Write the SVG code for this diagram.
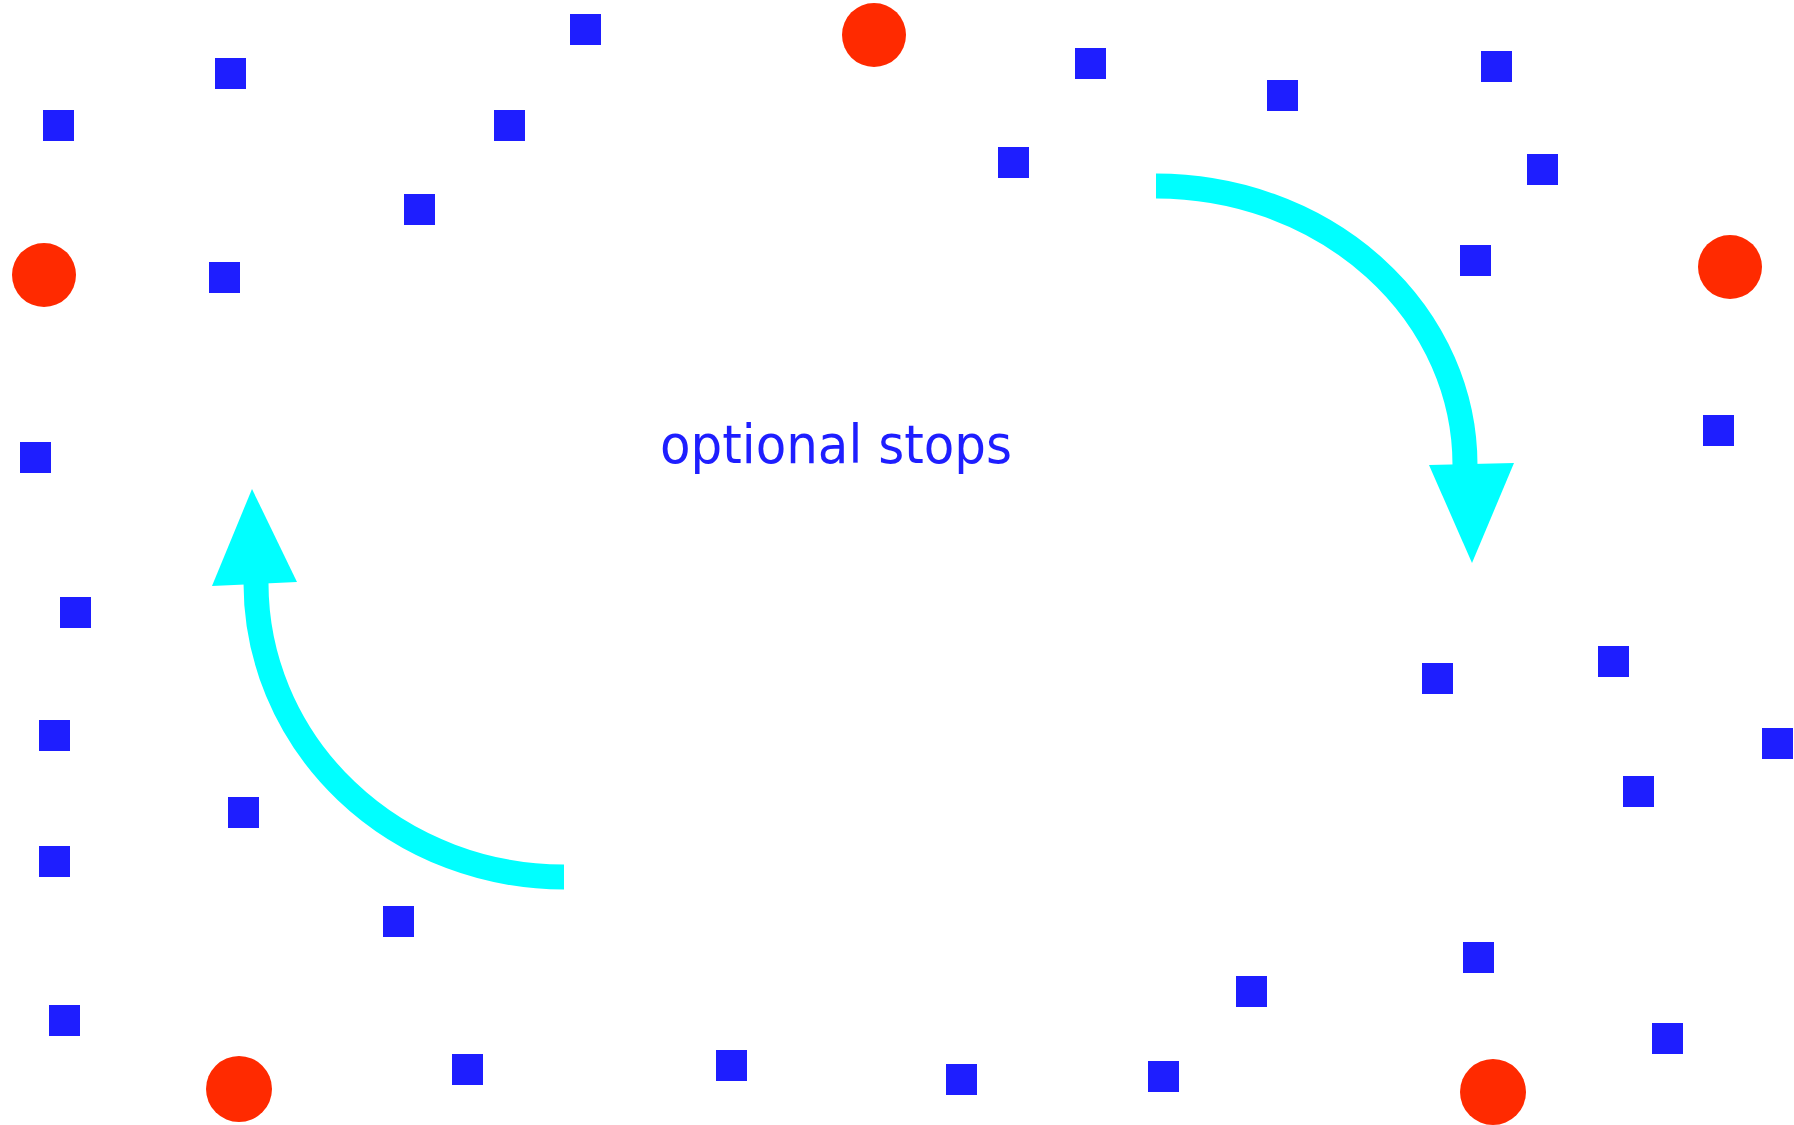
<svg xmlns="http://www.w3.org/2000/svg" width="1794" height="1125" viewBox="0 0 1794 1125">
<style>
.stop{fill:#1E1EFF}
.term{fill:#FF2A00}
.arc{fill:none;stroke:#00FFFF;stroke-width:25}
.head{fill:#00FFFF}
.lbl{font-family:"Comic Sans MS","DejaVu Sans",sans-serif;font-size:54px;fill:#1E1EFF}
</style>
<rect width="1794" height="1125" fill="#FFFFFF"/>
<g id="connectors">
<path class="arc" d="M1156,186 A309,279 0 0 1 1465,465"/>
<polygon class="head" points="1429,465 1514,463 1472,563"/>
<path class="arc" d="M564,877 A308,294 0 0 1 256,583"/>
<polygon class="head" points="212,586 297,582 252,489"/>
</g>
<g id="terminals">
<circle id="t1" class="term" cx="874" cy="35" r="32"/>
<circle id="t2" class="term" cx="44" cy="275" r="32"/>
<circle id="t3" class="term" cx="1730" cy="267" r="32"/>
<circle id="t4" class="term" cx="239" cy="1089" r="33"/>
<circle id="t5" class="term" cx="1493" cy="1092" r="33"/>
</g>
<g id="stops">
<rect id="s1" class="stop" x="570" y="14" width="31" height="31"/>
<rect id="s2" class="stop" x="215" y="58" width="31" height="31"/>
<rect id="s3" class="stop" x="43" y="110" width="31" height="31"/>
<rect id="s4" class="stop" x="494" y="110" width="31" height="31"/>
<rect id="s5" class="stop" x="404" y="194" width="31" height="31"/>
<rect id="s6" class="stop" x="209" y="262" width="31" height="31"/>
<rect id="s7" class="stop" x="1075" y="48" width="31" height="31"/>
<rect id="s8" class="stop" x="998" y="147" width="31" height="31"/>
<rect id="s9" class="stop" x="1267" y="80" width="31" height="31"/>
<rect id="s10" class="stop" x="1481" y="51" width="31" height="31"/>
<rect id="s11" class="stop" x="1527" y="154" width="31" height="31"/>
<rect id="s12" class="stop" x="1460" y="245" width="31" height="31"/>
<rect id="s13" class="stop" x="1703" y="415" width="31" height="31"/>
<rect id="s14" class="stop" x="20" y="442" width="31" height="31"/>
<rect id="s15" class="stop" x="60" y="597" width="31" height="31"/>
<rect id="s16" class="stop" x="39" y="720" width="31" height="31"/>
<rect id="s17" class="stop" x="228" y="797" width="31" height="31"/>
<rect id="s18" class="stop" x="39" y="846" width="31" height="31"/>
<rect id="s19" class="stop" x="383" y="906" width="31" height="31"/>
<rect id="s20" class="stop" x="49" y="1005" width="31" height="31"/>
<rect id="s21" class="stop" x="452" y="1054" width="31" height="31"/>
<rect id="s22" class="stop" x="716" y="1050" width="31" height="31"/>
<rect id="s23" class="stop" x="946" y="1064" width="31" height="31"/>
<rect id="s24" class="stop" x="1148" y="1061" width="31" height="31"/>
<rect id="s25" class="stop" x="1236" y="976" width="31" height="31"/>
<rect id="s26" class="stop" x="1463" y="942" width="31" height="31"/>
<rect id="s27" class="stop" x="1652" y="1023" width="31" height="31"/>
<rect id="s28" class="stop" x="1422" y="663" width="31" height="31"/>
<rect id="s29" class="stop" x="1598" y="646" width="31" height="31"/>
<rect id="s30" class="stop" x="1762" y="728" width="31" height="31"/>
<rect id="s31" class="stop" x="1623" y="776" width="31" height="31"/>
</g>
<g id="label">
<text class="lbl" x="660" y="463" textLength="352" lengthAdjust="spacingAndGlyphs">optional stops</text>
</g>
</svg>
